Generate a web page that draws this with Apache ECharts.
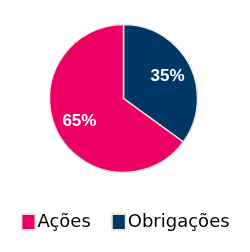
<!DOCTYPE html>
<html><head><meta charset="utf-8">
<script src="https://cdn.jsdelivr.net/npm/echarts@6/dist/echarts.min.js"></script>
<style>html,body{margin:0;padding:0;background:#fff}#c{width:250px;height:252px}</style>
</head><body><div id="c"></div>
<script>
const categories = ['Obrigações', 'Ações'];
const values = [35, 65];
const colors = ['#003865', '#EC0063'];
const legendOrder = ['Ações', 'Obrigações'];

const data = categories.map((n, i) => ({ name: n, value: values[i], itemStyle: { color: colors[i] } }));
const chart = echarts.init(document.getElementById('c'));
chart.setOption({
  animation: false,
  legend: {
    data: legendOrder,
    bottom: 16,
    left: 'center',
    icon: 'rect',
    itemWidth: 14,
    itemHeight: 16,
    itemGap: 20,
    textStyle: { fontFamily: 'DejaVu Sans', fontSize: 18, color: '#000', padding: [0, 0, 0, -3] }
  },
  series: [
    {
      type: 'pie',
      center: [123.5, 98.5],
      radius: [0, 74],
      startAngle: 90,
      clockwise: true,
      data: data,
      label: { show: false },
      labelLine: { show: false },
      itemStyle: { borderColor: '#EDE8DF', borderWidth: 1.5 },
      emphasis: { disabled: true }
    },
    {
      type: 'pie',
      center: [123.5, 98.5],
      radius: [19, 74],
      startAngle: 90,
      clockwise: true,
      silent: true,
      data: data.map(d => ({ name: d.name, value: d.value, itemStyle: { color: 'rgba(0,0,0,0)' } })),
      itemStyle: { borderWidth: 0 },
      label: {
        show: true,
        position: 'inside',
        formatter: p => p.value + '%',
        color: '#fff',
        fontFamily: 'Liberation Sans',
        fontWeight: 'bold',
        fontSize: 17
      },
      labelLine: { show: false },
      emphasis: { disabled: true }
    }
  ]
});
</script></body></html>
